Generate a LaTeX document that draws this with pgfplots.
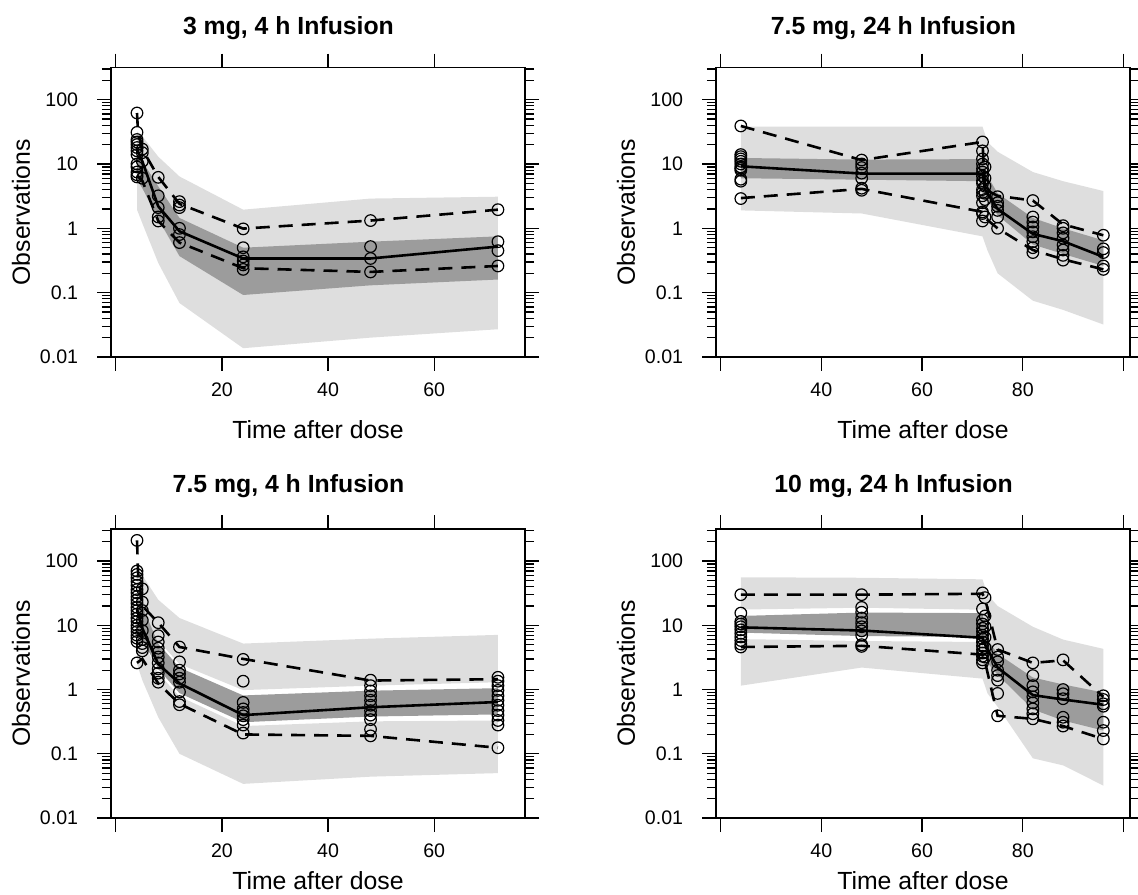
\documentclass[border=0pt]{standalone}
\usepackage{pgfplots}
\pgfplotsset{compat=1.18}
\usepackage{fontspec}
\setmainfont{Liberation Sans}

\definecolor{lightband}{RGB}{222,222,222}
\definecolor{darkband}{RGB}{156,156,156}

\pgfplotsset{
  bandlight/.style={fill=lightband, draw=none, mark=none, forget plot},
  banddark/.style={fill=darkband, draw=none, mark=none, forget plot},
  obspts/.style={only marks, mark=o, mark size=2.9pt, mark options={line width=0.6pt}, black},
  pctline/.style={black, line width=1.3pt, dash pattern=on 7pt off 4.5pt, mark=none},
  medline/.style={black, line width=1.3pt, mark=none},
}

\begin{document}
\begin{tikzpicture}
\useasboundingbox (0,0) rectangle (569pt,447pt);

% 3 mg, 4 h
\begin{axis}[
    scale only axis, width=207pt, height=144.75pt,
    at={(55.5pt,268.5pt)}, anchor=south west,
    ymode=log, ymin=0.01, ymax=316,
    xmin=-0.9, xmax=77.1, xtick={0,20,40,60}, xticklabels={,20,40,60},
    ytick={0.01,0.1,1,10,100},
    yticklabels={\mbox{0.01},\mbox{0.1},\mbox{1},\mbox{10},\mbox{100}},
    minor ytick={0.02,0.03,0.04,0.05,0.06,0.07,0.08,0.09,0.2,0.3,0.4,0.5,0.6,0.7,0.8,0.9,
                 2,3,4,5,6,7,8,9,20,30,40,50,60,70,80,90,200,300},
    tick align=outside, major tick length=7pt, minor tick length=4.6pt,
    axis line style={line width=0.6pt}, tick style={black, line width=0.6pt},
    tick label style={font=\fontsize{9.8}{11}\selectfont},
    yticklabel style={anchor=east, inner sep=0pt, xshift=-9.25pt},
    xticklabel style={anchor=center, inner sep=0pt, yshift=-9.5pt},
    label style={font=\fontsize{12.4}{14}\selectfont},
    xlabel={Time after dose}, ylabel={Observations},
    ylabel style={at={(axis description cs:-0.2174,0.5)}, anchor=center},
    xlabel style={at={(axis description cs:0.5,-0.2832)}, anchor=base, inner sep=0pt},
    title={3 mg, 4 h Infusion},
    every axis title/.style={at={(axis description cs:0.4287,1)}, anchor=base,
      yshift=16.25pt, font=\fontsize{12.4}{14}\selectfont\bfseries},
  ]
  \addplot[bandlight] coordinates {(4,32)(5,27)(8,13)(12,6.4)(24,1.95)(48,2.9)(72,3.1)
    (72,0.3)(48,0.2)(24,0.2)(12,0.6)(8,2.0)(5,6)(4,8)};
  \addplot[bandlight] coordinates {(4,15)(5,10)(8,3)(12,1.0)(24,0.4)(48,0.4)(72,0.5)
    (72,0.027)(48,0.02)(24,0.0137)(12,0.069)(8,0.29)(5,1.2)(4,1.95)};
  \addplot[banddark] coordinates {(4,14)(5,11)(8,4.5)(12,1.45)(24,0.5)(48,0.62)(72,0.75)
    (72,0.16)(48,0.13)(24,0.092)(12,0.37)(8,1.4)(5,4.2)(4,5.7)};
  \addplot[obspts] coordinates {
    (4,62)(4,31)(4,24)(4,22)(4,20)(4,18)(4,16)(4,14)(4,10)(4,9)(4,7.5)(4,6.8)(4,6.3)
    (5,17)(5,15)(5,11)(5,6)
    (8,6.2)(8,3.2)(8,2.1)(8,1.5)(8,1.3)
    (12,2.6)(12,2.3)(12,2.1)(12,1.0)(12,0.8)(12,0.6)
    (24,0.98)(24,0.5)(24,0.36)(24,0.31)(24,0.27)(24,0.23)
    (48,1.32)(48,0.52)(48,0.34)(48,0.21)
    (72,1.95)(72,0.62)(72,0.45)(72,0.26)};
  \addplot[pctline] coordinates {(4,62)(4.2,30)(5,17)(8,6.3)(12,2.4)(24,0.99)(48,1.32)(72,1.95)};
  \addplot[medline] coordinates {(4,17)(5,11)(8,2.2)(12,0.9)(24,0.34)(48,0.34)(72,0.52)};
  \addplot[pctline] coordinates {(4,6.6)(5,5.5)(8,1.3)(12,0.6)(24,0.24)(48,0.21)(72,0.26)};
\end{axis}

% 7.5 mg, 24 h
\begin{axis}[
    scale only axis, width=207pt, height=144.75pt,
    at={(358pt,268.5pt)}, anchor=south west,
    ymode=log, ymin=0.01, ymax=316,
    xmin=19.07, xmax=101.3, xtick={20,40,60,80,100}, xticklabels={,40,60,80,},
    ytick={0.01,0.1,1,10,100},
    yticklabels={\mbox{0.01},\mbox{0.1},\mbox{1},\mbox{10},\mbox{100}},
    minor ytick={0.02,0.03,0.04,0.05,0.06,0.07,0.08,0.09,0.2,0.3,0.4,0.5,0.6,0.7,0.8,0.9,
                 2,3,4,5,6,7,8,9,20,30,40,50,60,70,80,90,200,300},
    tick align=outside, major tick length=7pt, minor tick length=4.6pt,
    axis line style={line width=0.6pt}, tick style={black, line width=0.6pt},
    tick label style={font=\fontsize{9.8}{11}\selectfont},
    yticklabel style={anchor=east, inner sep=0pt, xshift=-9.25pt},
    xticklabel style={anchor=center, inner sep=0pt, yshift=-9.5pt},
    label style={font=\fontsize{12.4}{14}\selectfont},
    xlabel={Time after dose}, ylabel={Observations},
    ylabel style={at={(axis description cs:-0.2174,0.5)}, anchor=center},
    xlabel style={at={(axis description cs:0.5,-0.2832)}, anchor=base, inner sep=0pt},
    title={7.5 mg, 24 h Infusion},
    every axis title/.style={at={(axis description cs:0.4287,1)}, anchor=base,
      yshift=16.25pt, font=\fontsize{12.4}{14}\selectfont\bfseries},
  ]
  \addplot[bandlight] coordinates {(24,38)(48,38)(72,38)(73,22)(75,15.5)(82,7.5)(88,5.4)(96,3.8)
    (96,0.3)(88,0.5)(82,0.7)(75,1.8)(73,2.5)(72,6)(48,6.5)(24,7)};
  \addplot[bandlight] coordinates {(24,9)(48,8.5)(72,8)(73,4)(75,2.5)(82,1.0)(88,0.7)(96,0.45)
    (96,0.032)(88,0.054)(82,0.075)(75,0.2)(73,0.45)(72,0.75)(48,1.7)(24,1.9)};
  \addplot[banddark] coordinates {(24,12.4)(48,11.7)(72,11.9)(73,6.5)(75,3.5)(82,1.45)(88,1.0)(96,0.65)
    (96,0.26)(88,0.4)(82,0.56)(75,1.6)(73,2.8)(72,5.4)(48,5.7)(24,6.0)};
  \addplot[obspts] coordinates {
    (24,39)(24,14)(24,13)(24,12)(24,11)(24,10)(24,9)(24,8.5)(24,8)(24,5.8)(24,5.4)(24,2.9)
    (48,11.5)(48,10)(48,8.8)(48,7.2)(48,6)(48,4.2)(48,3.9)
    (72,22)(72,16)(72,12)(72,10)(72,8.5)(72,7.5)(72,6.5)(72,5.5)(72,5)(72,4)(72,3.6)(72,3.2)
    (72,2.5)(72,1.8)(72,1.7)(72,1.3)
    (72.5,9)(72.5,6)(72.5,4.5)(72.5,3.5)(72.5,2.8)(72.5,1.5)
    (75,3.1)(75,2.5)(75,2.2)(75,1.9)(75,1.5)(75,1.0)
    (82,2.7)(82,1.5)(82,1.25)(82,1.05)(82,0.88)(82,0.74)(82,0.62)(82,0.5)(82,0.42)
    (88,1.1)(88,1.0)(88,0.85)(88,0.7)(88,0.55)(88,0.46)(88,0.38)(88,0.32)
    (96,0.78)(96,0.48)(96,0.42)(96,0.26)(96,0.23)};
  \addplot[pctline] coordinates {(24,39)(48,11.5)(72,22)(72.5,4)(75,3.2)(82,2.7)(88,1.15)(96,0.78)};
  \addplot[medline] coordinates {(24,9.2)(48,7.1)(72,7.1)(72.5,4)(75,2.0)(82,0.82)(88,0.63)(96,0.36)};
  \addplot[pctline] coordinates {(24,2.95)(48,4.1)(72,1.8)(72.5,1.45)(75,1.0)(82,0.46)(88,0.33)(96,0.23)};
\end{axis}

% 7.5 mg, 4 h
\begin{axis}[
    scale only axis, width=207pt, height=144.5pt,
    at={(55.5pt,38pt)}, anchor=south west,
    ymode=log, ymin=0.01, ymax=316,
    xmin=-0.9, xmax=77.1, xtick={0,20,40,60}, xticklabels={,20,40,60},
    ytick={0.01,0.1,1,10,100},
    yticklabels={\mbox{0.01},\mbox{0.1},\mbox{1},\mbox{10},\mbox{100}},
    minor ytick={0.02,0.03,0.04,0.05,0.06,0.07,0.08,0.09,0.2,0.3,0.4,0.5,0.6,0.7,0.8,0.9,
                 2,3,4,5,6,7,8,9,20,30,40,50,60,70,80,90,200,300},
    tick align=outside, major tick length=7pt, minor tick length=4.6pt,
    axis line style={line width=0.6pt}, tick style={black, line width=0.6pt},
    tick label style={font=\fontsize{9.8}{11}\selectfont},
    yticklabel style={anchor=east, inner sep=0pt, xshift=-9.25pt},
    xticklabel style={anchor=center, inner sep=0pt, yshift=-9.5pt},
    label style={font=\fontsize{12.4}{14}\selectfont},
    xlabel={Time after dose}, ylabel={Observations},
    ylabel style={at={(axis description cs:-0.2174,0.5)}, anchor=center},
    xlabel style={at={(axis description cs:0.5,-0.2491)}, anchor=base, inner sep=0pt},
    title={7.5 mg, 4 h Infusion},
    every axis title/.style={at={(axis description cs:0.4287,1)}, anchor=base,
      yshift=18.5pt, font=\fontsize{12.4}{14}\selectfont\bfseries},
  ]
  \addplot[bandlight] coordinates {(4,72)(5,60)(8,25)(12,13)(24,5.2)(48,6.2)(72,7.1)
    (72,1.3)(48,1.15)(24,0.98)(12,2.5)(8,5.8)(5,8)(4,10)};
  \addplot[bandlight] coordinates {(4,9)(5,6)(8,1.8)(12,0.78)(24,0.27)(48,0.32)(72,0.33)
    (72,0.05)(48,0.044)(24,0.034)(12,0.1)(8,0.37)(5,1.4)(4,2.5)};
  \addplot[banddark] coordinates {(4,30)(5,20)(8,5.2)(12,2.2)(24,0.81)(48,0.96)(72,1.05)
    (72,0.41)(48,0.38)(24,0.31)(12,0.88)(8,2.1)(5,6)(4,8)};
  \addplot[obspts] coordinates {
    (4,210)(4,70)(4,62)(4,55)(4,48)(4,42)(4,36)(4,32)(4,28)(4,25)(4,22)(4,19)(4,17)(4,15)
    (4,13)(4,11.5)(4,10)(4,9)(4,8)(4,7)(4,6.3)(4,5.6)(4,2.6)
    (5,37)(5,23)(5,17)(5,12)(5,8.3)(5,6)(5,5.2)(5,4.5)(5,4.0)
    (8,11)(8,6.9)(8,5.5)(8,4.4)(8,3.8)(8,3.2)(8,2.6)(8,2.1)(8,1.8)(8,1.5)(8,1.3)
    (12,4.6)(12,2.7)(12,2.0)(12,1.75)(12,1.5)(12,1.3)(12,0.92)(12,0.65)(12,0.58)
    (24,2.95)(24,1.35)(24,0.63)(24,0.5)(24,0.44)(24,0.39)(24,0.34)(24,0.28)(24,0.21)
    (48,1.4)(48,1.15)(48,0.95)(48,0.8)(48,0.68)(48,0.57)(48,0.47)(48,0.4)(48,0.34)(48,0.24)(48,0.19)
    (72,1.55)(72,1.35)(72,1.15)(72,0.97)(72,0.8)(72,0.68)(72,0.57)(72,0.47)(72,0.4)(72,0.33)
    (72,0.28)(72,0.124)};
  \addplot[pctline] coordinates {(4,210)(4.2,65)(5,20)(8,11)(12,4.6)(24,3.0)(48,1.38)(72,1.45)};
  \addplot[medline] coordinates {(4,18)(5,9)(8,2.5)(12,1.25)(24,0.4)(48,0.53)(72,0.64)};
  \addplot[pctline] coordinates {(4,2.6)(5,3.0)(8,1.25)(12,0.6)(24,0.2)(48,0.19)(72,0.124)};
\end{axis}

% 10 mg, 24 h
\begin{axis}[
    scale only axis, width=207pt, height=144.5pt,
    at={(358pt,38pt)}, anchor=south west,
    ymode=log, ymin=0.01, ymax=316,
    xmin=19.07, xmax=101.3, xtick={20,40,60,80,100}, xticklabels={,40,60,80,},
    ytick={0.01,0.1,1,10,100},
    yticklabels={\mbox{0.01},\mbox{0.1},\mbox{1},\mbox{10},\mbox{100}},
    minor ytick={0.02,0.03,0.04,0.05,0.06,0.07,0.08,0.09,0.2,0.3,0.4,0.5,0.6,0.7,0.8,0.9,
                 2,3,4,5,6,7,8,9,20,30,40,50,60,70,80,90,200,300},
    tick align=outside, major tick length=7pt, minor tick length=4.6pt,
    axis line style={line width=0.6pt}, tick style={black, line width=0.6pt},
    tick label style={font=\fontsize{9.8}{11}\selectfont},
    yticklabel style={anchor=east, inner sep=0pt, xshift=-9.25pt},
    xticklabel style={anchor=center, inner sep=0pt, yshift=-9.5pt},
    label style={font=\fontsize{12.4}{14}\selectfont},
    xlabel={Time after dose}, ylabel={Observations},
    ylabel style={at={(axis description cs:-0.2174,0.5)}, anchor=center},
    xlabel style={at={(axis description cs:0.5,-0.2491)}, anchor=base, inner sep=0pt},
    title={10 mg, 24 h Infusion},
    every axis title/.style={at={(axis description cs:0.4287,1)}, anchor=base,
      yshift=18.5pt, font=\fontsize{12.4}{14}\selectfont\bfseries},
  ]
  \addplot[bandlight] coordinates {(24,56)(48,55)(72,52)(73,30)(75,20)(82,9.5)(88,6)(96,4.3)
    (96,0.5)(88,0.7)(82,1.0)(75,3)(73,5)(72,17.5)(48,18.8)(24,17.6)};
  \addplot[bandlight] coordinates {(24,6.1)(48,5.7)(72,5.5)(73,3)(75,2)(82,0.7)(88,0.5)(96,0.4)
    (96,0.032)(88,0.066)(82,0.085)(75,0.54)(73,0.87)(72,1.48)(48,2.2)(24,1.15)};
  \addplot[banddark] coordinates {(24,14)(48,15.8)(72,15.5)(73,6)(75,3.6)(82,1.54)(88,1.2)(96,0.9)
    (96,0.23)(88,0.33)(82,0.49)(75,1.7)(73,2.6)(72,6.6)(48,6.8)(24,7.7)};
  \addplot[obspts] coordinates {
    (24,30)(24,15.5)(24,11.5)(24,10.5)(24,9.5)(24,8.5)(24,7.5)(24,6.6)(24,5.8)(24,5.1)(24,4.6)
    (48,30)(48,19)(48,16)(48,13)(48,11)(48,9.5)(48,8.2)(48,7)(48,5)(48,4.7)
    (72,32)(72,18)(72,12)(72,10.5)(72,9)(72,8)(72,7)(72,6.2)(72,5.5)(72,4.8)(72,4.2)(72,3.7)
    (72,3.3)(72,2.9)(72,2.6)
    (72.5,27)(72.5,14)(72.5,9.5)(72.5,6.5)(72.5,4.5)(72.5,3.2)
    (75,4.2)(75,3.2)(75,2.7)(75,2.0)(75,1.65)(75,1.4)(75,0.87)(75,0.39)
    (82,2.6)(82,1.65)(82,1.15)(82,0.92)(82,0.77)(82,0.62)(82,0.5)(82,0.42)(82,0.35)
    (88,2.9)(88,1.0)(88,0.86)(88,0.72)(88,0.37)(88,0.31)(88,0.27)
    (96,0.8)(96,0.7)(96,0.6)(96,0.55)(96,0.31)(96,0.23)(96,0.17)};
  \addplot[pctline] coordinates {(24,30)(48,30)(72,31)(72.5,26)(75,4.2)(82,2.6)(88,2.85)(96,0.77)};
  \addplot[medline] coordinates {(24,9.3)(48,8.3)(72,6.4)(72.5,5)(75,2.2)(82,0.82)(88,0.7)(96,0.58)};
  \addplot[pctline] coordinates {(24,4.6)(48,4.8)(72,3.5)(72.5,2.7)(75,0.39)(82,0.35)(88,0.27)(96,0.17)};
\end{axis}
\end{tikzpicture}
\end{document}
